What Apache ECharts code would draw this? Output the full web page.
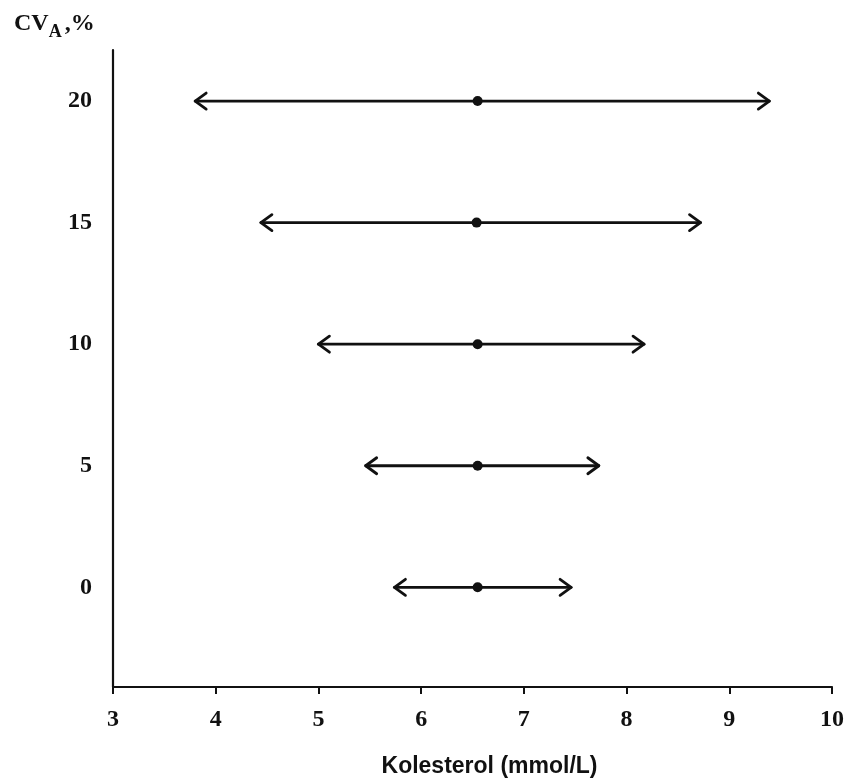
<!DOCTYPE html>
<html>
<head>
<meta charset="utf-8">
<script src="https://cdn.jsdelivr.net/npm/echarts@6/dist/echarts.min.js"></script>
<style>html,body{margin:0;padding:0;background:#fff;}#c{width:847px;height:783px;}</style>
</head>
<body>
<div id="c"></div>
<script>
// Data
var cvLevels = [0, 5, 10, 15, 20];          // CV_A, %
var lowLimits = [5.74, 5.46, 5.00, 4.44, 3.80];
var centerValues = [6.55, 6.55, 6.55, 6.54, 6.55];
var highLimits = [7.46, 7.73, 8.17, 8.72, 9.39];
var xTicks = [3, 4, 5, 6, 7, 8, 9, 10];
var yTickLabels = [0, 5, 10, 15, 20];

var rows = cvLevels.map(function (cv, i) {
  return [cv, lowLimits[i], centerValues[i], highLimits[i]];
});

var chart = echarts.init(document.getElementById('c'), null, {renderer: 'canvas'});
var serif = '"Liberation Serif", "Times New Roman", serif';
var sans = '"Liberation Sans", Arial, sans-serif';

function renderItem(params, api) {
  var cv = api.value(0);
  var p1 = api.coord([api.value(1), cv]);
  var pm = api.coord([api.value(2), cv]);
  var p2 = api.coord([api.value(3), cv]);
  var ah = 11, av = 8;
  var st = {stroke: '#111', lineWidth: 2.8, fill: null, lineCap: 'round', lineJoin: 'round'};
  return {
    type: 'group',
    children: [
      {type: 'line', shape: {x1: p1[0], y1: p1[1], x2: p2[0], y2: p2[1]}, style: st},
      {type: 'polyline', shape: {points: [[p1[0] + ah, p1[1] - av], [p1[0], p1[1]], [p1[0] + ah, p1[1] + av]]}, style: st},
      {type: 'polyline', shape: {points: [[p2[0] - ah, p2[1] - av], [p2[0], p2[1]], [p2[0] - ah, p2[1] + av]]}, style: st},
      {type: 'circle', shape: {cx: pm[0], cy: pm[1], r: 5}, style: {fill: '#111'}}
    ]
  };
}

chart.setOption({
  backgroundColor: '#fff',
  animation: false,
  title: {
    left: 9, top: 2,
    text: '{a|CV}{b|A}{a|,%}',
    textStyle: {
      rich: {
        a: {fontFamily: serif, fontWeight: 'bold', fontSize: 24, color: '#111'},
        b: {fontFamily: serif, fontWeight: 'bold', fontSize: 18, color: '#111', padding: [16, 3, 0, 0]}
      }
    }
  },
  grid: {left: 113, right: 14, top: 50, bottom: 96, containLabel: false},
  xAxis: {
    type: 'value', min: xTicks[0], max: xTicks[xTicks.length - 1], interval: 1,
    name: 'Kolesterol (mmol/L)', nameLocation: 'middle', nameGap: 68,
    nameTextStyle: {fontFamily: sans, fontWeight: 'bold', fontSize: 23, color: '#111', padding: [0, 0, 0, 34]},
    axisLine: {onZero: false, lineStyle: {color: '#111', width: 2.2}},
    axisTick: {show: true, inside: false, length: 7, lineStyle: {color: '#111', width: 2}},
    axisLabel: {fontFamily: serif, fontWeight: 'bold', fontSize: 24, color: '#111', margin: 21},
    splitLine: {show: false}
  },
  yAxis: {
    type: 'value', min: -4.1, max: 22.1,
    axisLine: {show: true, onZero: false, lineStyle: {color: '#111', width: 2.2}},
    axisTick: {show: false},
    axisLabel: {customValues: yTickLabels, fontFamily: serif, fontWeight: 'bold', fontSize: 24, color: '#111', margin: 21},
    splitLine: {show: false}
  },
  series: [{
    type: 'custom',
    renderItem: renderItem,
    encode: {x: [1, 2, 3], y: 0},
    data: rows
  }]
});
</script>
</body>
</html>
